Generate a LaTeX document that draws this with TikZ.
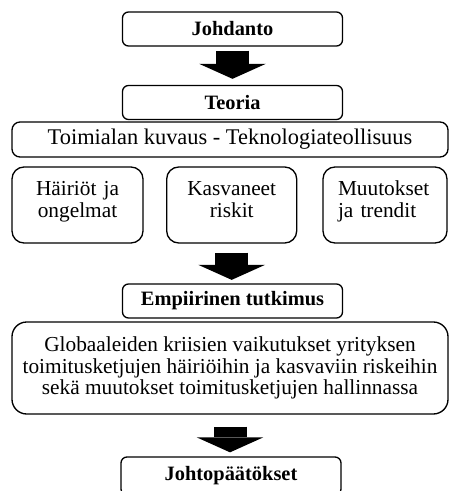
\documentclass[tikz,border=0pt]{standalone}
\usepackage{fontspec}
\setmainfont{Liberation Serif}
\usetikzlibrary{arrows.meta}

\tikzset{
  otsikko/.style={draw, line width=1pt, rounded corners=4.5pt, inner sep=0pt,
    minimum width=165pt, minimum height=25.5pt, font=\fontsize{15.3}{17}\selectfont\bfseries},
  palkki/.style={draw, line width=1pt, rounded corners=6pt, inner sep=0pt,
    minimum width=327pt, minimum height=26.25pt, font=\fontsize{16.8}{17}\selectfont},
  osa/.style={draw, line width=1pt, rounded corners=9pt, inner xsep=0pt, inner ysep=0pt,
    minimum height=57pt, text height=11pt, text depth=24.5pt, align=center,
    font=\fontsize{16}{16.3}\selectfont},
  kehys/.style={draw, line width=1pt, rounded corners=11pt, inner sep=0pt,
    minimum width=327pt, minimum height=69pt, align=center, font=\fontsize{16}{16.3}\selectfont},
  nuoli/.style={line width=24.75pt, -{Triangle[length=11.25pt, width=50pt, line width=0pt]}}
}

\begin{document}
\begin{tikzpicture}[x=0.75pt,y=0.75pt,yscale=-1,xscale=1]
        \useasboundingbox (0,0) rectangle (449,491);
        %Rounded Rect: headings
        \node[otsikko] (johdanto) at (232.5,29) {Johdanto};
        \node[otsikko] (teoria) at (232.5,102.5) {Teoria};
        \node[palkki] (toimiala) at (230,139.5) {Toimialan kuvaus - Teknologiateollisuus};
        %Rounded Rect: three themes
        \node[osa, minimum width=98.25pt, text width=98.25pt] (hairiot) at (77.5,205) {Häiriöt ja\\ongelmat};
        \node[osa, minimum width=97.5pt, text width=97.5pt] (riskit) at (231.7,205) {Kasvaneet\\riskit};
        \node[osa, minimum width=93pt, inner xsep=11.25pt, text width=70.5pt, align=left] (muutokset) at (385,205) {Muutokset\\ja trendit};
        \node[otsikko] (empiria) at (232.5,301) {Empiirinen tutkimus};
        \node[kehys] (kriisit) at (230,368) {Globaaleiden kriisien vaikutukset yrityksen\\toimitusketjujen häiriöihin ja kasvaviin riskeihin\\sekä muutokset toimitusketjujen hallinnassa};
        \node[otsikko, minimum height=28.5pt] (johtopaatokset) at (231,476) {Johtopäätökset};
        %Block arrows
        \draw[nuoli, shorten <=3pt, shorten >=4.5pt] (johdanto) -- (teoria);
        \draw[nuoli, shorten <=6.75pt, shorten >=2.6pt] (riskit.south) -- (riskit.south |- empiria.north);
        \draw[nuoli, shorten <=9pt, shorten >=3pt] (kriisit.south) -- (kriisit.south |- johtopaatokset.north);
    \end{tikzpicture}
\end{document}
